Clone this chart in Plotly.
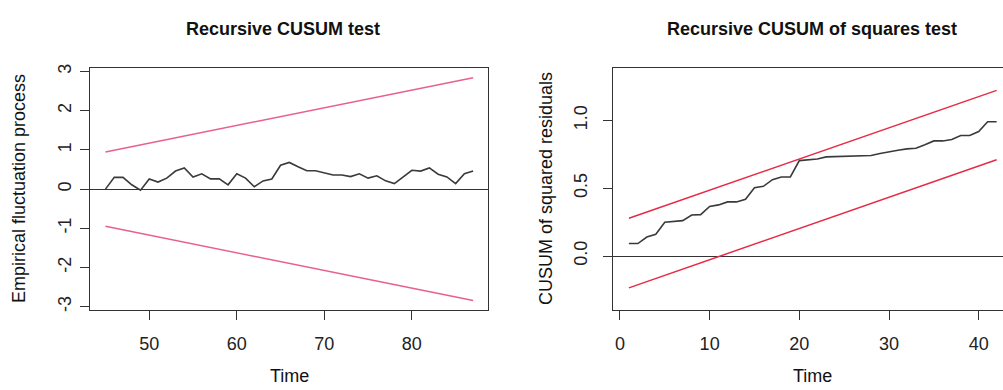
import plotly.graph_objects as go

# ---- Left panel: Recursive CUSUM test ----
cusum_time = list(range(45, 88))
cusum_values = [0.00, 0.30, 0.30, 0.11, -0.03, 0.26, 0.18, 0.28, 0.46, 0.54,
                0.31, 0.39, 0.26, 0.26, 0.11, 0.39, 0.28, 0.06, 0.21, 0.26,
                0.61, 0.68, 0.57, 0.47, 0.47, 0.42, 0.36, 0.36, 0.32, 0.39,
                0.28, 0.34, 0.21, 0.14, 0.31, 0.48, 0.46, 0.54, 0.38, 0.31,
                0.14, 0.39, 0.46]
cusum_bound_time = [45, 87]
cusum_upper = [0.948, 2.844]
cusum_lower = [-0.948, -2.844]
cusum_yticks = [-3, -2, -1, 0, 1, 2, 3]
cusum_yticklabels = ["-3", "-2", "-1", "0", "1", "2", "3"]
cusum_xticks = [50, 60, 70, 80]

# ---- Right panel: Recursive CUSUM of squares test ----
sq_time = list(range(1, 43))
sq_values = [0.092, 0.092, 0.140, 0.160, 0.249, 0.254, 0.261, 0.302, 0.305, 0.365,
             0.377, 0.399, 0.399, 0.419, 0.504, 0.514, 0.563, 0.583, 0.583, 0.704,
             0.709, 0.716, 0.731, 0.733, 0.735, 0.737, 0.739, 0.741, 0.756, 0.770,
             0.780, 0.790, 0.795, 0.820, 0.849, 0.849, 0.859, 0.889, 0.889, 0.918,
             0.990, 0.990]
sq_bound_time = [1, 42]
sq_upper = [0.278, 1.222]
sq_lower = [-0.235, 0.710]
sq_yticks = [0, 0.5, 1.0]
sq_yticklabels = ["0.0", "0.5", "1.0"]
sq_xticks = [0, 10, 20, 30, 40]

W, H = 1003, 390
FONT = "Liberation Sans, Arial, Helvetica, sans-serif"
AX = "#333333"
PINK = "#E8608E"
RED = "#E62A45"

fig = go.Figure()
fig.add_trace(go.Scatter(x=cusum_bound_time, y=cusum_upper, mode="lines",
                         line=dict(color=PINK, width=1.5), xaxis="x", yaxis="y"))
fig.add_trace(go.Scatter(x=cusum_bound_time, y=cusum_lower, mode="lines",
                         line=dict(color=PINK, width=1.5), xaxis="x", yaxis="y"))
fig.add_trace(go.Scatter(x=cusum_time, y=cusum_values, mode="lines",
                         line=dict(color="#3a3a3a", width=1.6), xaxis="x", yaxis="y"))

fig.add_trace(go.Scatter(x=sq_bound_time, y=sq_upper, mode="lines",
                         line=dict(color=RED, width=1.5), xaxis="x2", yaxis="y2"))
fig.add_trace(go.Scatter(x=sq_bound_time, y=sq_lower, mode="lines",
                         line=dict(color=RED, width=1.5), xaxis="x2", yaxis="y2"))
fig.add_trace(go.Scatter(x=sq_time, y=sq_values, mode="lines",
                         line=dict(color="#3a3a3a", width=1.6), xaxis="x2", yaxis="y2"))

ydom = [(H - 311) / H, (H - 65) / H]
common_x = dict(showgrid=False, zeroline=False, showline=True, linecolor=AX, linewidth=1,
                ticks="outside", ticklen=9, tickcolor=AX, tickwidth=1,
                tickfont=dict(family=FONT, size=18, color="#222"),
                ticklabelstandoff=8)
common_y = dict(showgrid=False, zeroline=True, zerolinecolor=AX, zerolinewidth=1,
                showline=True, linecolor=AX, linewidth=1,
                ticks="outside", ticklen=9, tickcolor=AX, tickwidth=1,
                tickangle=-90, tickfont=dict(family=FONT, size=18, color="#222"))

fig.update_layout(
    width=W, height=H, margin=dict(l=0, r=0, t=0, b=0),
    paper_bgcolor="white", plot_bgcolor="white", showlegend=False,
    xaxis=dict(domain=[90 / W, 487.5 / W], range=[43.23, 88.64],
               tickvals=cusum_xticks, mirror=True, anchor="y", **common_x),
    yaxis=dict(domain=ydom, range=[-3.09, 3.09], tickvals=cusum_yticks,
               ticktext=cusum_yticklabels,
               mirror=True, anchor="x", ticklabelstandoff=2, **common_y),
    xaxis2=dict(domain=[613.3 / W, 1.0], range=[-0.74, 42.71],
                tickvals=sq_xticks, mirror=True, anchor="y2", **common_x),
    yaxis2=dict(domain=ydom, range=[-0.40, 1.387], tickvals=sq_yticks,
                ticktext=sq_yticklabels, anchor="x2", ticklabelstandoff=9,
                **common_y),
)

ann = []
def txt(x, y, s, size=18, angle=0):
    ann.append(dict(x=x / W, y=1 - y / H, xref="paper", yref="paper", text=s,
                    showarrow=False, textangle=angle, xanchor="center", yanchor="middle",
                    font=dict(family=FONT, size=size, color="#111")))

txt(283, 25, "<b>Recursive CUSUM test</b>")
txt(812, 25, "<b>Recursive CUSUM of squares test</b>")
txt(289, 378, "Time")
txt(812, 378, "Time")
txt(19, 188, "Empirical fluctuation process", angle=-90)
txt(546, 188, "CUSUM of squared residuals", angle=-90)
fig.update_layout(annotations=ann)

fig.write_html("out.html", config={"displayModeBar": False},
               post_script="document.body.style.margin='0';document.body.style.overflow='hidden';")
